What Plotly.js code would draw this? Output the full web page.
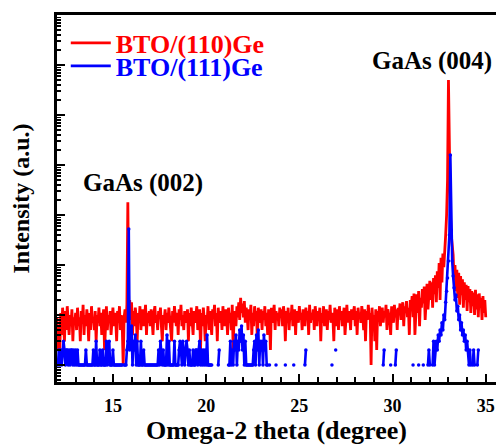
<!DOCTYPE html>
<html>
<head>
<meta charset="utf-8">
<script src="https://cdn.plot.ly/plotly-3.0.1.min.js"></script>
<style>html,body{margin:0;padding:0;background:#fff;}#chart{width:496px;height:446px;}</style>
</head>
<body>
<div id="chart"></div>
<script>
// Scan grid (omega-2theta, degree)
const scanStart = 12.0;
const scanStep = 0.05;

// BTO/(110)Ge intensity (counts), one row per degree
const red110 = [
9,2,6,2,11,4,14,7,3,12,5,15,8,4,10,6,13,3,9,7,
11,5,14,6,9,3,12,7,16,4,10,6,13,8,3,11,5,15,7,9,
5,12,3,10,7,14,6,11,4,9,13,2,8,15,5,10,7,12,4,9,
14,6,11,8,3,12,7,15,5,10,6,1,9,13,7,16,1800,12,20,8,
18,4,12,6,14,9,3,11,7,15,5,10,13,6,9,16,4,11,7,12,
6,13,8,4,11,15,7,10,5,12,9,14,6,3,10,8,13,5,11,7,
14,9,5,3,12,7,15,10,6,11,4,13,8,16,6,10,5,12,9,7,
13,3,11,6,14,8,4,12,7,10,15,5,9,13,2,11,6,14,8,3,
10,7,15,5,12,8,4,13,9,16,6,11,3,14,7,10,12,5,15,8,
6,13,9,4,14,7,11,5,16,2,10,12,6,15,9,18,8,22,11,17,
9,19,7,14,10,5,13,8,16,4,11,6,15,9,12,3,14,7,10,13,
5,12,8,15,6,11,4,13,9,2,14,7,10,16,5,12,8,11,6,14,
9,13,6,15,10,3,12,7,14,5,11,8,16,6,10,13,4,12,9,7,
15,8,11,5,13,10,6,14,9,12,4,16,7,11,8,13,5,15,10,6,
12,9,14,3,11,7,15,6,10,13,5,12,8,16,7,11,9,3,14,6,
10,13,5,15,8,12,6,11,14,4,9,16,7,12,10,5,13,8,11,15,
6,12,4,14,9,11,7,15,10,5,13,3,12,8,16,9,11,1,14,7,
10,3,13,2,12,8,15,6,11,14,7,12,9,16,5,13,10,8,4,15,
11,7,16,9,13,5,14,10,17,8,12,18,6,15,11,19,9,14,4,20,
14,24,9,27,4,19,26,11,30,6,22,14,33,17,37,8,29,42,13,36,
48,20,45,14,55,26,62,18,75,35,110,20,140,45,170,90,280,400,1000,5000,
500000,8000,1200,400,250,160,50,100,30,80,22,70,16,60,25,52,14,45,20,40,
12,38,18,33,11,30,15,28,10,32,13,26,9,27,14,22,8,24,11,20,
9
];

// BTO/(111)Ge intensity (counts), 0 = no counts
const blue111 = [
0,1,2,1,2,1,2,3,2,1,2,2,1,2,1,2,2,1,2,1,
2,1,2,1,1,1,1,1,1,1,1,2,1,1,1,1,1,1,1,2,
1,1,3,1,1,1,2,1,1,2,1,1,1,3,1,2,3,1,1,1,
2,1,1,1,1,1,1,1,1,1,1,0,1,1,1,2,3,525,2,4,
6,1,3,2,4,1,3,1,1,1,3,1,1,2,1,1,1,1,1,1,
1,1,1,1,1,1,1,1,1,2,1,3,2,1,2,1,1,1,4,1,
3,1,1,1,1,1,3,1,1,1,1,2,3,2,1,3,2,1,2,3,
2,1,2,1,1,1,2,1,1,2,2,1,2,3,1,2,1,2,1,2,
1,4,1,1,1,1,1,0,0,0,0,0,0,1,2,0,0,0,0,0,
0,0,0,0,1,1,3,1,2,1,3,2,4,1,3,2,5,3,6,2,
4,1,3,1,1,1,1,1,1,1,1,2,3,1,4,2,5,1,3,2,
3,1,4,2,3,1,1,0,1,0,0,0,0,0,0,1,0,0,0,0,
0,0,0,0,0,1,0,0,0,0,0,0,0,0,1,0,0,0,0,0,
0,0,0,0,0,0,1,2,0,0,0,0,0,0,0,0,0,0,0,0,
0,0,0,0,0,0,0,0,0,0,0,0,0,0,0,1,0,0,0,2,
0,0,0,0,0,0,0,0,0,0,0,0,0,0,0,0,0,0,0,0,
0,0,0,0,0,0,0,0,0,0,0,0,0,0,0,0,0,0,0,0,
0,0,0,0,0,0,0,0,0,0,1,2,0,0,0,0,0,0,1,0,
0,0,0,1,2,0,0,0,0,0,0,0,0,0,0,0,0,0,0,0,
0,0,1,0,0,0,0,0,1,0,0,0,0,1,0,0,0,0,1,2,
1,0,0,1,3,1,2,3,2,4,3,5,4,7,5,10,8,18,30,55,
120,400,15850,500,120,60,35,20,25,12,15,8,10,5,7,4,5,3,4,2,
3,2,1,2,1,0,1,2,1,0,0,1,2,0,0,0,0,0,0,0,
0
];

const seriesNames = ['BTO/(110)Ge', 'BTO/(111)Ge'];
const peakLabels = ['GaAs (002)', 'GaAs (004)'];

const xs = red110.map((_, i) => +(scanStart + i * scanStep).toFixed(3));
const blueY = blue111.map(v => v > 0 ? v : null);

const serif = '"Liberation Serif", "Times New Roman", serif';
const NB = '\u00a0';

const traces = [
  {x: xs, y: red110, type: 'scatter', mode: 'lines', name: seriesNames[0],
   line: {color: '#ff0000', width: 2.8}, legend: 'legend'},
  {x: xs, y: blueY, type: 'scatter', mode: 'lines+markers', name: seriesNames[1],
   connectgaps: false, line: {color: '#0000ff', width: 2.6},
   marker: {color: '#0000ff', size: 3.5}, showlegend: false},
  // legend entry for the blue series (line only, as in the reference legend)
  {x: [null], y: [null], type: 'scatter', mode: 'lines', name: seriesNames[1],
   line: {color: '#0000ff', width: 2.6}, legend: 'legend2', hoverinfo: 'skip'}
];

const layout = {
  width: 496, height: 446,
  margin: {l: 57, r: 0, t: 15, b: 64},
  paper_bgcolor: '#fff', plot_bgcolor: '#fff',
  font: {family: serif, size: 18, color: '#000', weight: 'bold'},
  showlegend: true,
  xaxis: {
    range: [12, 35.55], tick0: 0, dtick: 5,
    ticks: 'inside', ticklen: 8, tickwidth: 2, tickcolor: '#000',
    showline: true, linewidth: 3, linecolor: '#000', mirror: true,
    showgrid: false, zeroline: false,
    minor: {dtick: 1, ticks: 'inside', ticklen: 5, tickwidth: 2, tickcolor: '#000', showgrid: false},
    tickfont: {family: serif, size: 18, weight: 'bold'},
    ticklabelstandoff: 5,
    title: {text: 'Omega-2 theta (degree)', font: {family: serif, size: 26, weight: 'bold'}, standoff: 6}
  },
  yaxis: {
    type: 'log', range: [-0.34, 7], dtick: 1,
    ticks: 'inside', ticklen: 8, tickwidth: 2, tickcolor: '#000',
    showticklabels: false,
    showline: true, linewidth: 3, linecolor: '#000', mirror: false,
    showgrid: false, zeroline: false,
    minor: {dtick: 'D1', ticks: 'inside', ticklen: 4, tickwidth: 1.5, tickcolor: '#000', showgrid: false},
    title: {text: 'Intensity (a.u.)' + NB.repeat(5), font: {family: serif, size: 24, weight: 'bold'}, standoff: 18}
  },
  legend: {x: 0.02, xanchor: 'left', y: 0.924, yanchor: 'middle', bgcolor: 'rgba(0,0,0,0)',
           font: {family: serif, size: 26, color: '#ff0000', weight: 'bold'}, itemwidth: 40},
  legend2: {x: 0.02, xanchor: 'left', y: 0.861, yanchor: 'middle', bgcolor: 'rgba(0,0,0,0)',
            font: {family: serif, size: 26, color: '#0000ff', weight: 'bold'}, itemwidth: 40},
  annotations: [
    {x: 16.6, y: 3.64, xref: 'x', yref: 'y', text: peakLabels[0], showarrow: false,
     font: {family: serif, size: 25, color: '#000', weight: 'bold'}},
    {x: 32.14, y: 6.08, xref: 'x', yref: 'y', text: peakLabels[1], showarrow: false,
     font: {family: serif, size: 25, color: '#000', weight: 'bold'}}
  ]
};

Plotly.newPlot('chart', traces, layout, {staticPlot: true, displayModeBar: false});
</script>
</body>
</html>
